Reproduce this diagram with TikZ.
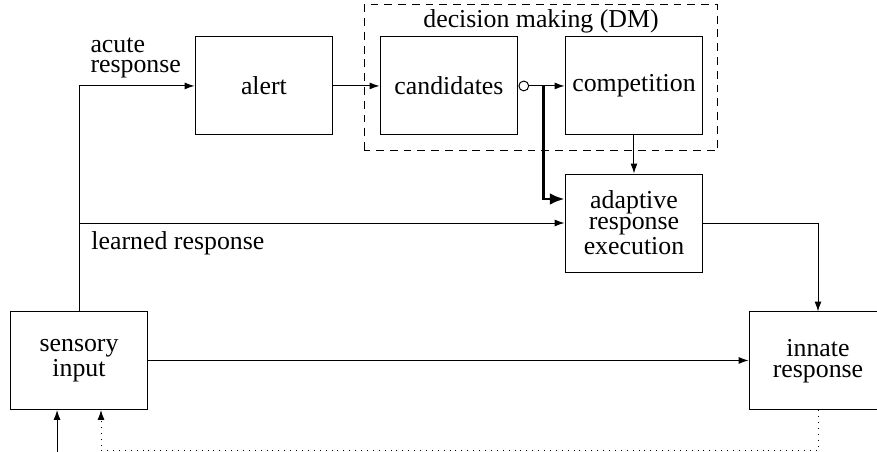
\documentclass[tikz,border=0pt]{standalone}
\usepackage{fontspec}
\setmainfont{Liberation Serif}
\usetikzlibrary{positioning,arrows.meta,calc}

\tikzset{
  box/.style={draw, minimum width=1.97cm, minimum height=1.4cm, align=center, inner sep=1pt},
  lbl/.style={inner sep=0pt},
}

\begin{document}
\begin{tikzpicture}[>={Latex[length=4pt,width=2.8pt]}, font=\fontsize{10.5}{8.4}\selectfont]
  \useasboundingbox (0,0) rectangle (12.529,6.457);
  % blocks
  \node[box] (sense)  at (1.129,1.307)  {sensory\\input};
  \node[box] (innate) at (11.686,1.300) {innate\\response};
  \node[box] (alert)  at (3.771,5.229)  {alert};
  \node[box] (cand)   at (6.414,5.229)  {candidates};
  \node[box] (comp)   at (9.057,5.229)  {competition};
  \node[box] (adapt)  at (9.057,3.271)  {adaptive\\response\\execution};
  % decision making frame
  \draw[dash pattern=on 3.2pt off 2.4pt] (5.2,4.314) rectangle (10.257,6.386);
  \node[anchor=base] (dmlabel) at (7.729,6.057) {decision making (DM)};
  % inhibition from the candidates
  \node[circle, draw, fill=white, inner sep=0pt, minimum size=0.14cm, anchor=west] (inhib) at (cand.east) {};
  \coordinate (split) at ([xshift=0.2cm]inhib.east);
  % connections
  \draw[->] (sense.north) |- (alert.west);
  \node[lbl, align=left, anchor=south west] (acute) at (1.286,5.329) {acute\\response};
  \draw[->] (alert.east) -- (cand.west);
  \draw[->] (inhib.east) -- (comp.west);
  \draw[-{Latex[length=6pt,width=4.8pt]}, line width=1.1pt] (split) |- ([yshift=0.343cm]adapt.west);
  \draw[->] (comp.south) -- (adapt.north);
  \draw[->] (sense.north |- adapt.west) -- (adapt.west);
  \node[lbl, anchor=north west] (learned) at (1.3,3.157) {learned response};
  \draw[->] (adapt.east) -| (innate.north);
  \draw[->] (sense.east) -- (sense.east -| innate.west);
  % outside input and feedback
  \coordinate (stim) at ([xshift=-0.314cm]sense.south |- 0,0);
  \draw[->] (stim) -- (stim |- sense.south);
  \draw[->, dotted] (innate.south) -- ++(0,-0.571) -| ([xshift=0.314cm]sense.south);
\end{tikzpicture}
\end{document}
